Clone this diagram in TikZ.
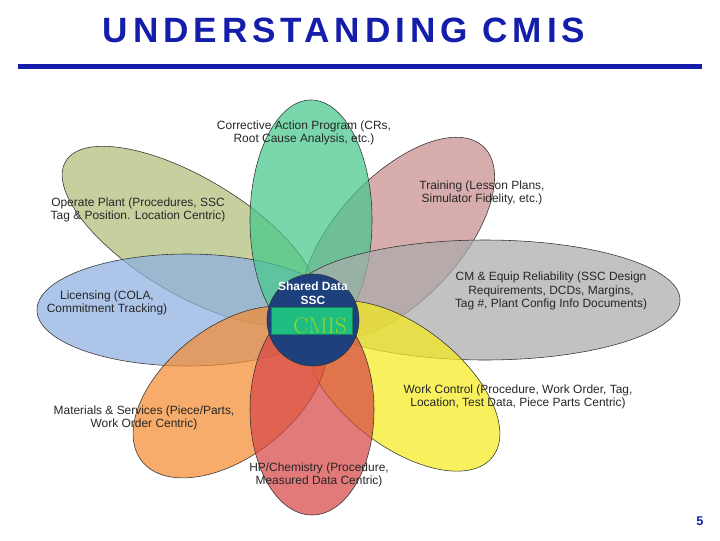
\documentclass[tikz,border=0pt]{standalone}
\usepackage{fontspec}
\setmainfont{Liberation Sans}
\usetikzlibrary{positioning}
\definecolor{titleblue}{RGB}{20,30,170}
\definecolor{petgreen}{RGB}{70,200,140}
\definecolor{petpink}{RGB}{200,140,140}
\definecolor{petgray}{RGB}{170,170,170}
\definecolor{petyellow}{RGB}{245,235,30}
\definecolor{petred}{RGB}{215,70,70}
\definecolor{petorange}{RGB}{245,140,50}
\definecolor{petblue}{RGB}{140,175,225}
\definecolor{petolive}{RGB}{175,190,120}
\definecolor{hubblue}{RGB}{30,65,125}
\definecolor{cmisgreen}{RGB}{30,190,130}
\begin{document}
\begin{tikzpicture}[x=0.025cm,y=-0.025cm,
  petal/.style={draw=black!80, fill opacity=0.72},
  lbl/.style={align=center, font=\fontsize{8.5}{9.5}\selectfont, text=black!85, inner sep=1pt}
]
\useasboundingbox (0,0) rectangle (720,540);
% title
\node[font=\fontsize{25}{30}\selectfont\bfseries\addfontfeature{LetterSpace=14}, text=titleblue] (title) at (344,30) {UNDERSTANDING CMIS};
\fill[titleblue] (18,64) rectangle (702,69);

% petals
\filldraw[petal, fill=petolive] (190,236) ellipse[x radius=145, y radius=58, rotate=-31];
\filldraw[petal, fill=petblue] (187,310) ellipse[x radius=150, y radius=56];
\filldraw[petal, fill=petpink] (398,238) ellipse[x radius=125, y radius=62, rotate=47];
\filldraw[petal, fill=petgreen] (311,220) ellipse[x radius=61, y radius=120];
\filldraw[petal, fill=petgray] (485,300) ellipse[x radius=195, y radius=60];
\filldraw[petal, fill=petyellow] (402,386) ellipse[x radius=115, y radius=60, rotate=-38];
\filldraw[petal, fill=petorange] (230,392) ellipse[x radius=112, y radius=65, rotate=38];
\filldraw[petal, fill=petred] (312,410) ellipse[x radius=62, y radius=105];

% hub
\filldraw[draw=black!80, fill=hubblue] (313,320) circle (46) coordinate (hub);
\node[font=\fontsize{8.5}{10}\selectfont\bfseries, text=white, align=center] (shared) at (313,293) {Shared Data\\SSC};
\node[draw=cmisgreen!70!black, fill=cmisgreen, minimum width=81*0.025cm, minimum height=27*0.025cm, inner sep=0pt] (cmisbox) at (312,321) {};
\node[font=\fontfamily{lmr}\fontsize{16}{16}\selectfont, text=yellow!60!green] (cmis) at (320,326) {CMIS};

% labels
\node[lbl] (corr) at (304,133) {Corrective Action Program (CRs,\\Root Cause Analysis, etc.)};
\node[lbl] (train) at (482,193) {Training (Lesson Plans,\\Simulator Fidelity, etc.)};
\node[lbl] (oper) at (138,210) {Operate Plant (Procedures, SSC\\Tag \& Position. Location Centric)};
\node[lbl] (lic) at (107,303) {Licensing (COLA,\\Commitment Tracking)};
\node[lbl] (cm) at (551,291) {CM \& Equip Reliability (SSC Design\\Requirements, DCDs, Margins,\\Tag \#, Plant Config Info Documents)};
\node[lbl] (work) at (518,397) {Work Control (Procedure, Work Order, Tag,\\Location, Test Data, Piece Parts Centric)};
\node[lbl] (mat) at (144,418) {Materials \& Services (Piece/Parts,\\Work Order Centric)};
\node[lbl] (hp) at (319,475) {HP/Chemistry (Procedure,\\Measured Data Centric)};
\node[font=\bfseries\small, text=titleblue] (page) at (700,521) {5};
\end{tikzpicture}
\end{document}
